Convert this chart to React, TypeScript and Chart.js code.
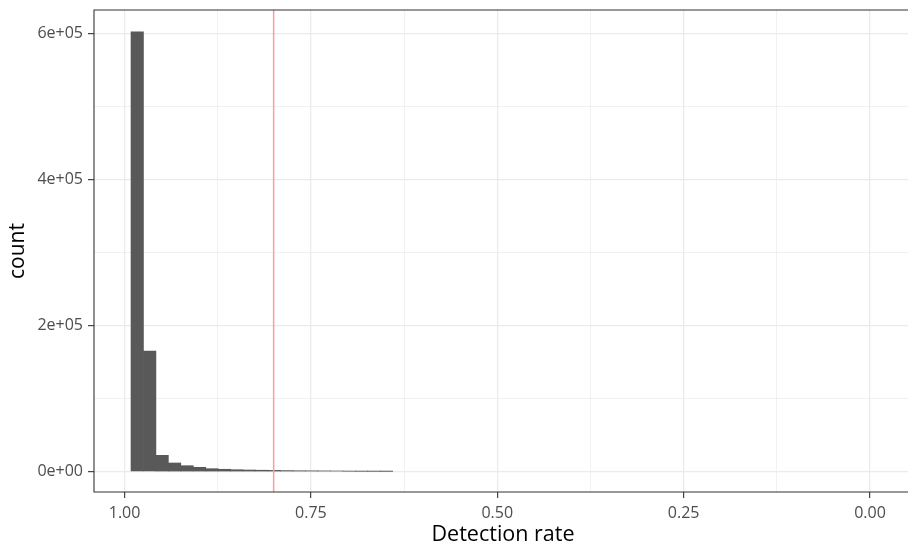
import React, { useEffect, useRef } from "react";
import { Chart, registerables } from "chart.js";

Chart.register(...registerables);

// Histogram bin centres (detection rate) and counts
const binCenters = [
  0.983, 0.9663, 0.9496, 0.9329, 0.9161, 0.8994, 0.8827, 0.866, 0.8493, 0.8326,
  0.8158, 0.7991, 0.7824, 0.7657, 0.749, 0.7323, 0.7155, 0.6988, 0.6821, 0.6654,
  0.6487,
];
const binCounts = [
  602000, 165000, 22400, 11900, 8200, 6000, 4100, 3300, 2700, 2300,
  2000, 1800, 1500, 1300, 1200, 1100, 1000, 600, 500, 450,
  400,
];
const thresholdValue = 0.8;

const xMajorTicks = [0, 0.25, 0.5, 0.75, 1];
const xMinorTicks = [0.125, 0.375, 0.625, 0.875];
const yMajorTicks = [0, 200000, 400000, 600000];
const yMinorTicks = [100000, 300000, 500000];
const yTickLabels = ["0e+00", "2e+05", "4e+05", "6e+05"];

const xMin = -0.0564;
const xMax = 1.041;
const yMin = -27800;
const yMax = 631900;

const FONT = "'Open Sans', 'Noto Sans', sans-serif";
const CANVAS_W = 912;
const CANVAS_H = 543;

// Panel border: left, top and bottom (the right edge lies outside the picture)
const panelBorder = {
  id: "panelBorder",
  afterDraw(chart: any) {
    const { ctx, chartArea } = chart;
    const right = chart.width;
    ctx.save();
    ctx.strokeStyle = "#333333";
    ctx.lineWidth = 1.1;
    ctx.beginPath();
    ctx.moveTo(right, chartArea.top);
    ctx.lineTo(chartArea.left, chartArea.top);
    ctx.lineTo(chartArea.left, chartArea.bottom);
    ctx.lineTo(right, chartArea.bottom);
    ctx.stroke();
    ctx.restore();
  },
};

export default function App() {
  const ref = useRef<HTMLCanvasElement | null>(null);

  useEffect(() => {
    if (!ref.current) return;
    const isMajorX = (v: number) => xMajorTicks.some((t) => Math.abs(t - v) < 1e-9);
    const isMajorY = (v: number) => yMajorTicks.some((t) => Math.abs(t - v) < 1e-3);

    const chart = new Chart(ref.current, {
      type: "bar",
      data: {
        datasets: [
          {
            type: "line",
            data: [
              { x: thresholdValue, y: yMin },
              { x: thresholdValue, y: yMax },
            ],
            borderColor: "#FF9C9C",
            borderWidth: 1.5,
            pointRadius: 0,
            order: 0,
          } as any,
          {
            type: "bar",
            data: binCenters.map((x, i) => ({ x, y: binCounts[i] })),
            backgroundColor: "#595959",
            borderWidth: 0,
            barPercentage: 1,
            categoryPercentage: 1,
            order: 1,
          } as any,
        ],
      },
      options: {
        animation: false,
        responsive: false,
        layout: { autoPadding: false, padding: { top: 10, right: 0, left: 0, bottom: 0 } },
        plugins: { legend: { display: false }, tooltip: { enabled: false } },
        scales: {
          x: {
            type: "linear",
            reverse: true,
            min: xMin,
            max: xMax,
            offset: false,
            afterBuildTicks: (scale: any) => {
              scale.ticks = [...xMajorTicks, ...xMinorTicks]
                .sort((a, b) => a - b)
                .map((v) => ({ value: v }));
            },
            afterFit: (scale: any) => {
              scale.height = 51;
              scale.paddingLeft = 0;
              scale.paddingRight = 0;
            },
            ticks: {
              autoSkip: false,
              maxRotation: 0,
              padding: 6,
              color: "#4D4D4D",
              font: { family: FONT, size: 16 },
              callback: (v: any) => (isMajorX(Number(v)) ? Number(v).toFixed(2) : ""),
            },
            grid: {
              offset: false,
              color: "#EBEBEB",
              lineWidth: (ctx: any) => (ctx.tick && isMajorX(ctx.tick.value) ? 1.3 : 0.7),
              tickLength: 6,
              tickWidth: 1.1,
              tickColor: (ctx: any) =>
                ctx.tick && isMajorX(ctx.tick.value) ? "#333333" : "rgba(0,0,0,0)",
            },
            border: { display: false },
            title: {
              display: true,
              text: "Detection rate",
              color: "#000000",
              font: { family: FONT, size: 21.5, lineHeight: 0.8 },
              padding: { top: 0, bottom: 0 },
            },
          },
          y: {
            type: "linear",
            min: yMin,
            max: yMax,
            afterBuildTicks: (scale: any) => {
              scale.ticks = [...yMajorTicks, ...yMinorTicks]
                .sort((a, b) => a - b)
                .map((v) => ({ value: v }));
            },
            afterFit: (scale: any) => {
              scale.width = 94;
              scale.paddingTop = 0;
              scale.paddingBottom = 0;
            },
            ticks: {
              autoSkip: false,
              padding: 5,
              color: "#4D4D4D",
              font: { family: FONT, size: 16 },
              callback: (v: any) => {
                const i = yMajorTicks.findIndex((t) => Math.abs(t - Number(v)) < 1e-3);
                return i >= 0 ? yTickLabels[i] : "";
              },
            },
            grid: {
              color: "#EBEBEB",
              lineWidth: (ctx: any) => (ctx.tick && isMajorY(ctx.tick.value) ? 1.3 : 0.7),
              tickLength: 6,
              tickWidth: 1.1,
              tickColor: (ctx: any) =>
                ctx.tick && isMajorY(ctx.tick.value) ? "#333333" : "rgba(0,0,0,0)",
            },
            border: { display: false },
            title: {
              display: true,
              text: "count",
              color: "#000000",
              font: { family: FONT, size: 21 },
              padding: { top: 5, bottom: 0 },
            },
          },
        },
      },
      plugins: [panelBorder],
    } as any);
    return () => chart.destroy();
  }, []);

  return (
    <div
      style={{
        position: "absolute",
        left: 0,
        top: 0,
        width: 908,
        height: 543,
        overflow: "hidden",
        background: "#fff",
      }}
    >
      <canvas
        ref={ref}
        width={CANVAS_W}
        height={CANVAS_H}
        style={{ width: CANVAS_W, height: CANVAS_H, display: "block" }}
      />
    </div>
  );
}
